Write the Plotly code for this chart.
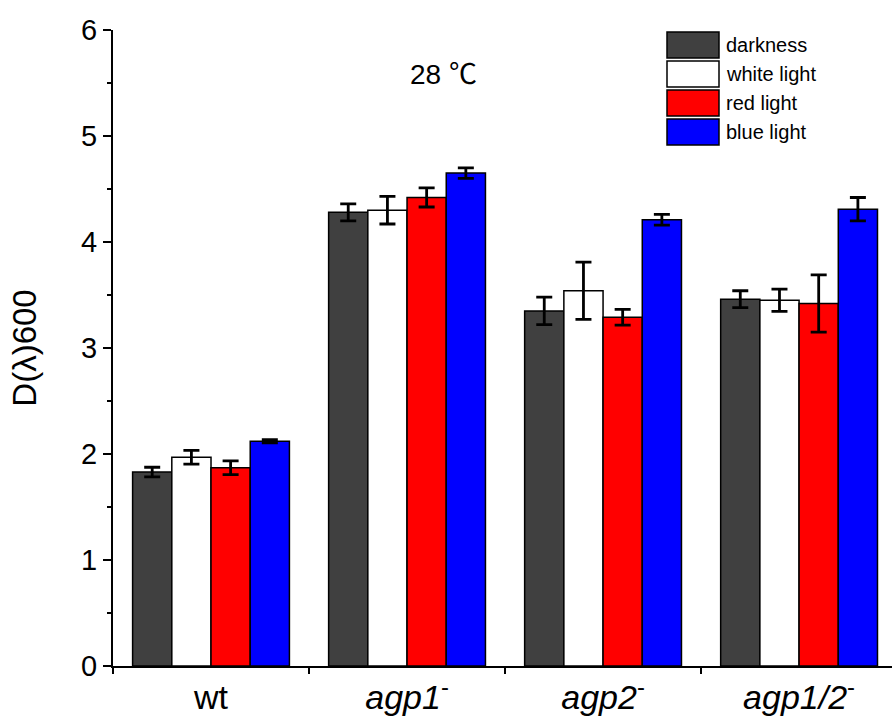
import plotly.graph_objects as go

# Growth readings per strain under each light condition
strains = ["wt", "<i>agp1</i><sup>-</sup>", "<i>agp2</i><sup>-</sup>", "<i>agp1/2</i><sup>-</sup>"]
conditions = ["darkness", "white light", "red light", "blue light"]

darkness = [1.83, 4.28, 3.35, 3.46]
white_light = [1.97, 4.30, 3.54, 3.45]
red_light = [1.87, 4.42, 3.29, 3.42]
blue_light = [2.12, 4.65, 4.21, 4.31]

darkness_err = [0.045, 0.08, 0.13, 0.08]
white_light_err = [0.065, 0.13, 0.27, 0.105]
red_light_err = [0.065, 0.09, 0.075, 0.27]
blue_light_err = [0.015, 0.05, 0.05, 0.11]

colors = ["#404040", "#ffffff", "#ff0000", "#0000ff"]
series = [darkness, white_light, red_light, blue_light]
errors = [darkness_err, white_light_err, red_light_err, blue_light_err]

W, H = 892, 727
L, R, T, B = 113, 0, 30, 61

fig = go.Figure()
for name, vals, errs, col in zip(conditions, series, errors, colors):
    fig.add_trace(go.Bar(
        x=strains, y=vals, name=name,
        marker=dict(color=col, line=dict(color="#000000", width=1.5)),
        error_y=dict(type="data", array=errs, visible=True,
                     color="#000000", thickness=2.8, width=8),
        showlegend=False,
    ))

# Hand-built legend in the upper right corner
pw, ph = W - L - R, H - T - B


def px_x(px):
    return (px - L) / pw


def px_y(py):
    return (H - B - py) / ph


shapes = []
annotations = []
box_tops = [32, 61, 90, 119]
for name, col, top in zip(conditions, colors, box_tops):
    shapes.append(dict(type="rect", xref="paper", yref="paper",
                       x0=px_x(667), x1=px_x(719), y0=px_y(top), y1=px_y(top + 26),
                       fillcolor=col, line=dict(color="#000000", width=1.5)))
    annotations.append(dict(xref="paper", yref="paper", x=px_x(724), y=px_y(top + 13),
                            text=name, showarrow=False, xanchor="left", yanchor="middle",
                            font=dict(family="Arial, Liberation Sans, sans-serif", size=20, color="#000000")))

annotations.append(dict(xref="paper", yref="paper", x=px_x(443), y=px_y(72),
                        text="28 <span style=\"font-family:'Noto Sans CJK SC', 'DejaVu Serif', serif\">℃</span>",
                        showarrow=False, xanchor="center", yanchor="middle",
                        font=dict(family="Arial, Liberation Sans, sans-serif", size=28, color="#000000")))

fig.update_layout(
    width=W, height=H,
    margin=dict(l=L, r=R, t=T, b=B),
    paper_bgcolor="#ffffff", plot_bgcolor="#ffffff",
    barmode="group", bargap=0.2, bargroupgap=0.0,
    font=dict(family="Arial, Liberation Sans, sans-serif", color="#000000"),
    shapes=shapes, annotations=annotations,
    xaxis=dict(
        type="category", range=[-0.5, 3.474],
        showline=True, linecolor="#000000", linewidth=2,
        ticks="outside", tickson="boundaries", ticklen=6, tickwidth=2, tickcolor="#000000",
        tickfont=dict(size=34, color="#000000"),
        showgrid=False, zeroline=False,
    ),
    yaxis=dict(
        range=[0, 6], tickvals=[0, 1, 2, 3, 4, 5, 6],
        showline=True, linecolor="#000000", linewidth=2,
        ticks="outside", ticklen=8, tickwidth=2, tickcolor="#000000",
        tickfont=dict(size=29, color="#000000"),
        minor=dict(dtick=0.5, ticks="outside", ticklen=4, tickwidth=2, tickcolor="#000000", showgrid=False),
        showgrid=False, zeroline=False,
        title=dict(text="D(λ)600", font=dict(size=33, color="#000000"), standoff=35),
    ),
)

fig.write_html("out.html")
